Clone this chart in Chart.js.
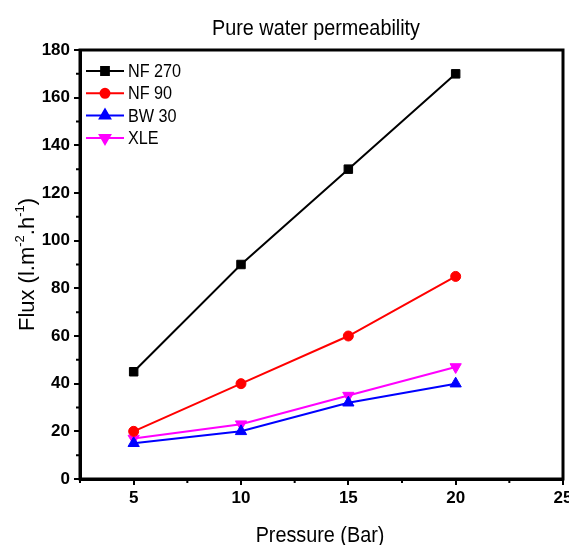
<!DOCTYPE html>
<html>
<head>
<meta charset="utf-8">
<script src="https://cdn.jsdelivr.net/npm/chart.js@4.4.1/dist/chart.umd.min.js"></script>
<style>
  html, body { margin: 0; padding: 0; background: #fff; }
  #wrap { width: 569px; height: 545px; }
</style>
</head>
<body>
<div id="wrap"><canvas id="flux-chart" width="569" height="545"></canvas></div>
<script>
// ---------------------- DATA -------------------------
const pressure = [5, 10, 15, 20];
const nf270 = [45, 90, 130, 170];
const nf90 = [20, 40, 60, 85];
const bw30 = [15, 20, 32, 40];
const xle = [17, 23, 35, 47];

const xTicks = [5, 10, 15, 20, 25];
const xMinor = [2.5, 7.5, 12.5, 17.5, 22.5];
const yTicks = [0, 20, 40, 60, 80, 100, 120, 140, 160, 180];
const yMinor = [10, 30, 50, 70, 90, 110, 130, 150, 170];

const FONT = 'Arial, "Liberation Sans", sans-serif';
const SQUEEZE = 0.9; // text in the source looks slightly condensed

function toPoints(values) {
      return pressure.map((p, i) => ({ x: p, y: values[i] }));
}

function makeSet(label, values, color, style, radius, rotation) {
      return {
            label: label,
            data: toPoints(values),
            borderColor: color,
            backgroundColor: color,
            borderWidth: 2,
            pointStyle: style,
            pointRadius: radius,
            pointRotation: rotation || 0,
            pointBorderWidth: 1,
            tension: 0,
            fill: false
      };
}

// draw condensed text anchored at (x, y)
function squeezedText(ctx, text, x, y) {
      ctx.save();
      ctx.translate(x, y);
      ctx.scale(SQUEEZE, 1);
      ctx.fillText(text, 0, 0);
      ctx.restore();
}

// ---------------------- PLUGINS -------------------------
// title, frame box, minor ticks, legend inside plot, axis titles with superscripts
const decorPlugin = {
      id: 'decor',
      afterDraw(chart) {
            const ctx = chart.ctx;
            const a = chart.chartArea;
            const xs = chart.scales.x;
            const ys = chart.scales.y;
            ctx.save();

            // title
            ctx.fillStyle = '#000';
            ctx.font = '22px ' + FONT;
            ctx.textAlign = 'center';
            ctx.textBaseline = 'middle';
            squeezedText(ctx, 'Pure water permeability', 316, 29);

            // frame
            ctx.strokeStyle = '#000';
            ctx.lineWidth = 3;
            ctx.strokeRect(a.left, a.top, a.right - a.left, a.bottom - a.top);

            // minor ticks
            ctx.lineWidth = 2;
            ctx.beginPath();
            xMinor.forEach(v => {
                  const px = xs.getPixelForValue(v);
                  ctx.moveTo(px, a.bottom);
                  ctx.lineTo(px, a.bottom + 4);
            });
            yMinor.forEach(v => {
                  const py = ys.getPixelForValue(v);
                  ctx.moveTo(a.left, py);
                  ctx.lineTo(a.left - 4, py);
            });
            ctx.stroke();

            // legend
            ctx.font = '18px ' + FONT;
            ctx.textBaseline = 'middle';
            ctx.textAlign = 'left';
            chart.data.datasets.forEach((ds, i) => {
                  const y = 71 + i * 22.3;
                  ctx.strokeStyle = ds.borderColor;
                  ctx.lineWidth = 2;
                  ctx.beginPath();
                  ctx.moveTo(86, y);
                  ctx.lineTo(124, y);
                  ctx.stroke();
                  ctx.fillStyle = ds.backgroundColor;
                  Chart.helpers.drawPoint(ctx, {
                        pointStyle: ds.pointStyle,
                        radius: ds.pointRadius - 0.5,
                        rotation: ds.pointRotation,
                        borderWidth: 1
                  }, 105, y);
                  ctx.fillStyle = '#000';
                  squeezedText(ctx, ds.label, 128, y + 1);
            });

            // x title
            ctx.fillStyle = '#000';
            ctx.font = '22px ' + FONT;
            ctx.textAlign = 'center';
            ctx.textBaseline = 'middle';
            squeezedText(ctx, 'Pressure (Bar)', 320, 536);

            // y title, rotated, with superscripts
            ctx.translate(34, (a.top + a.bottom) / 2);
            ctx.rotate(-Math.PI / 2);
            ctx.textBaseline = 'alphabetic';
            const parts = [
                  ['Flux (l.m', false], ['-2', true], ['.h', false], ['-1', true], [')', false]
            ];
            const widths = parts.map(p => {
                  ctx.font = (p[1] ? '13px ' : '22px ') + FONT;
                  return ctx.measureText(p[0]).width;
            });
            let x = -widths.reduce((s, w) => s + w, 0) / 2;
            ctx.textAlign = 'left';
            parts.forEach((p, i) => {
                  ctx.font = (p[1] ? '13px ' : '22px ') + FONT;
                  ctx.fillText(p[0], x, p[1] ? -10 : 0);
                  x += widths[i];
            });
            ctx.restore();
      }
};

// ---------------------- CHART -------------------------
const ctx = document.getElementById('flux-chart').getContext('2d');

new Chart(ctx, {
      type: 'line',
      data: {
            datasets: [
                  makeSet('NF 270', nf270, '#000000', 'rect', 6),
                  makeSet('NF 90', nf90, '#ff0000', 'circle', 5),
                  makeSet('BW 30', bw30, '#0000ff', 'triangle', 6.5),
                  makeSet('XLE', xle, '#ff00ff', 'triangle', 6.5, 180)
            ]
      },
      options: {
            responsive: false,
            animation: false,
            layout: { autoPadding: false, padding: { left: 0, right: 6, top: 50, bottom: 0 } },
            scales: {
                  x: {
                        type: 'linear',
                        min: 2.5,
                        max: 25,
                        afterBuildTicks: s => { s.ticks = xTicks.map(v => ({ value: v })); },
                        afterFit: s => { s.height = 66; s.paddingLeft = 0; s.paddingRight = 0; },
                        border: { display: true, color: '#000', width: 3 },
                        grid: { drawOnChartArea: false, drawTicks: true, tickLength: 6, lineWidth: 2, color: '#000' },
                        ticks: {
                              color: '#000',
                              padding: 3,
                              maxRotation: 0,
                              autoSkip: false,
                              font: { family: FONT, size: 17, weight: 'bold' }
                        }
                  },
                  y: {
                        min: 0,
                        max: 180,
                        afterBuildTicks: s => { s.ticks = yTicks.map(v => ({ value: v })); },
                        afterFit: s => { s.width = 80; s.paddingTop = 0; s.paddingBottom = 0; },
                        border: { display: true, color: '#000', width: 3 },
                        grid: { drawOnChartArea: false, drawTicks: true, tickLength: 6, lineWidth: 2, color: '#000' },
                        ticks: {
                              color: '#000',
                              padding: 4,
                              autoSkip: false,
                              font: { family: FONT, size: 17, weight: 'bold' }
                        }
                  }
            },
            plugins: {
                  legend: { display: false },
                  tooltip: { enabled: false },
                  title: { display: false }
            }
      },
      plugins: [decorPlugin]
});
</script>
</body>
</html>
